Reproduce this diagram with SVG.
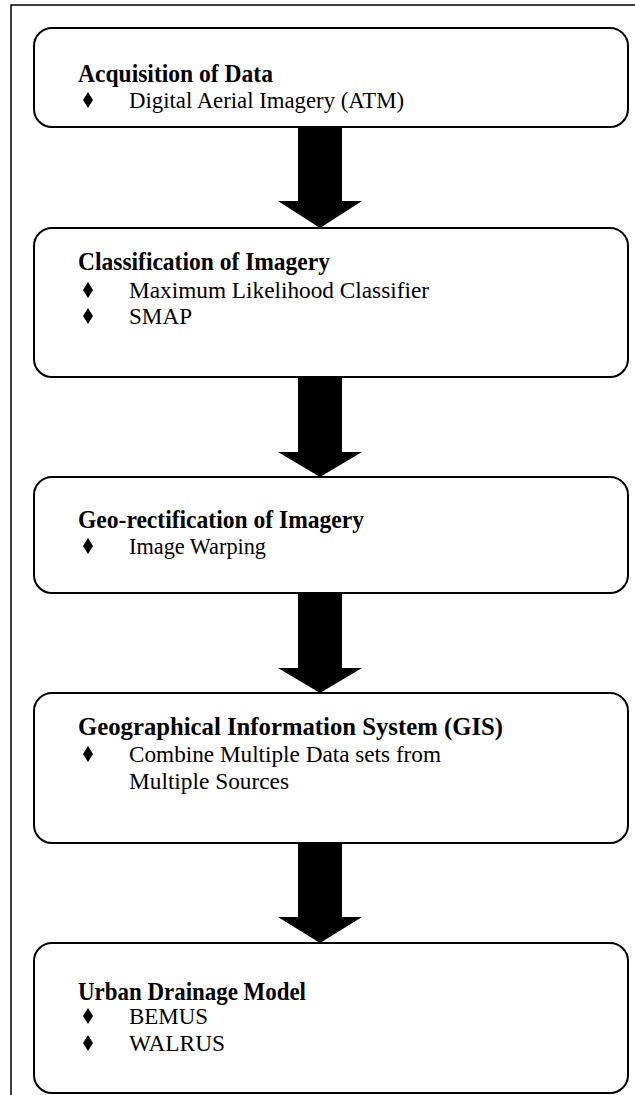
<svg xmlns="http://www.w3.org/2000/svg" width="635" height="1095" viewBox="0 0 635 1095">
<style>
.box{fill:#fff;stroke:#000;stroke-width:2}
.h{font-family:"Liberation Serif","Times New Roman",serif;font-weight:bold;font-size:25px;fill:#000}
.t{font-family:"Liberation Serif","Times New Roman",serif;font-size:24px;fill:#000}
.arrow{fill:#000}
</style>
<defs>
<path id="dia" d="M0,-8 L5,0 L0,8 L-5,0 Z"/>
</defs>
<rect x="0" y="0" width="635" height="1095" fill="#fff"/>
<g id="frame" fill="none" stroke="#000" stroke-width="1.5">
<path d="M11,1095 L11,5 L635,5"/>
</g>
<g id="connectors">
<polygon class="arrow" points="298,127 342,127 342,201 362,201 320,228 278,201 298,201"/>
<polygon class="arrow" points="311,127 315,117 319,127"/>
<polygon class="arrow" points="298,377 342,377 342,452 362,452 320,477 278,452 298,452"/>
<polygon class="arrow" points="298,593 342,593 342,668 362,668 320,693 278,668 298,668"/>
<polygon class="arrow" points="298,843 342,843 342,917 362,917 320,943 278,917 298,917"/>
</g>
<g id="n1">
<rect class="box" x="34" y="28" width="594" height="99" rx="18"/>
<text class="h" x="78" y="82" textLength="195" lengthAdjust="spacingAndGlyphs">Acquisition of Data</text>
<use href="#dia" x="88" y="100"/>
<text class="t" x="129" y="108" textLength="275" lengthAdjust="spacingAndGlyphs">Digital Aerial Imagery (ATM)</text>
</g>
<g id="n2">
<rect class="box" x="34" y="228" width="594" height="149" rx="18"/>
<text class="h" x="78" y="270" textLength="252" lengthAdjust="spacingAndGlyphs">Classification of Imagery</text>
<use href="#dia" x="88" y="290"/>
<text class="t" x="129" y="298" textLength="300" lengthAdjust="spacingAndGlyphs">Maximum Likelihood Classifier</text>
<use href="#dia" x="88" y="316"/>
<text class="t" x="129" y="324" textLength="63" lengthAdjust="spacingAndGlyphs">SMAP</text>
</g>
<g id="n3">
<rect class="box" x="34" y="477" width="594" height="116" rx="18"/>
<text class="h" x="78" y="528" textLength="286" lengthAdjust="spacingAndGlyphs">Geo-rectification of Imagery</text>
<use href="#dia" x="88" y="546"/>
<text class="t" x="129" y="554" textLength="137" lengthAdjust="spacingAndGlyphs">Image Warping</text>
</g>
<g id="n4">
<rect class="box" x="34" y="693" width="594" height="150" rx="18"/>
<text class="h" x="78" y="735" textLength="425" lengthAdjust="spacingAndGlyphs">Geographical Information System (GIS)</text>
<use href="#dia" x="88" y="754"/>
<text class="t" x="129" y="762" textLength="312" lengthAdjust="spacingAndGlyphs">Combine Multiple Data sets from</text>
<text class="t" x="129" y="789" textLength="160" lengthAdjust="spacingAndGlyphs">Multiple Sources</text>
</g>
<g id="n5">
<rect class="box" x="34" y="943" width="594" height="150" rx="18"/>
<text class="h" x="78" y="1000" textLength="228" lengthAdjust="spacingAndGlyphs">Urban Drainage Model</text>
<use href="#dia" x="88" y="1016"/>
<text class="t" x="129" y="1024" textLength="79" lengthAdjust="spacingAndGlyphs">BEMUS</text>
<use href="#dia" x="88" y="1043"/>
<text class="t" x="129" y="1051" textLength="96" lengthAdjust="spacingAndGlyphs">WALRUS</text>
</g>
</svg>
